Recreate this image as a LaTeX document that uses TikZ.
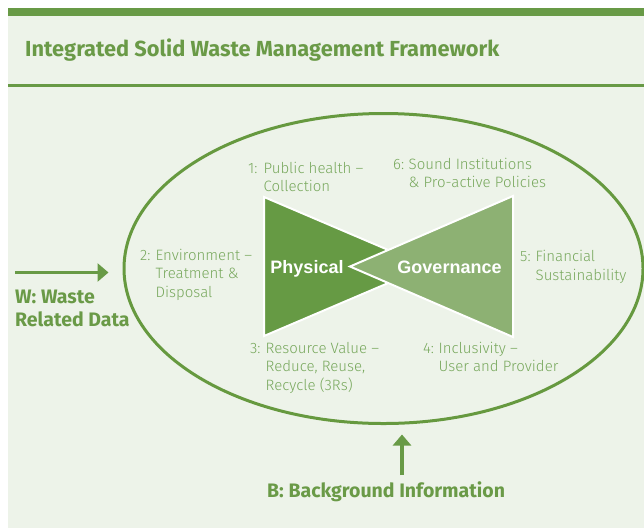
\documentclass[tikz,border=0pt]{standalone}
\usepackage{fontspec}
\setmainfont{Fira Sans}
\newfontfamily\labelfont{Fira Sans Light}
\newfontfamily\headfont{Fira Sans}
\newfontfamily\shapefont{Liberation Sans}
\usetikzlibrary{arrows.meta,shapes.geometric}

\definecolor{rulegreen}{HTML}{689A46}
\definecolor{panelbg}{HTML}{EDF3E9}
\definecolor{ringgreen}{HTML}{66993F}
\definecolor{physgreen}{HTML}{669A44}
\definecolor{govgreen}{HTML}{8DB173}
\definecolor{labelgreen}{HTML}{78A85D}
\definecolor{headgreen}{HTML}{6A9A47}

\begin{document}
\begin{tikzpicture}[x=1pt,y=-1pt,
  labeltext/.style={font=\labelfont\fontsize{15}{18.5}\selectfont, text=labelgreen,
    inner sep=0pt, anchor=base west},
  headtext/.style={text=headgreen, inner sep=0pt, anchor=base west},
  shapetext/.style={font=\shapefont\bfseries\fontsize{18}{21}\selectfont, text=white,
    inner sep=0pt, anchor=base},
  wedge/.style={draw=white, line width=2pt, line join=miter},
  flow/.style={draw=rulegreen, line width=3.5pt,
    -{Triangle[length=11pt,width=18pt]}}
]
\newcommand{\numlabel}[3]{\begin{tabular}[t]{@{}l@{}l@{}}\makebox[15.5pt][l]{#1}&#2\\#3\end{tabular}}

% page frame
\useasboundingbox (0,0) rectangle (644,528);
\fill[white] (0,0) rectangle (644,528);
\fill[panelbg] (8,16) rectangle (644,528);
\fill[rulegreen] (8,8) rectangle (644,16);
\fill[rulegreen] (8,84) rectangle (644,87);

\node[headtext, font=\headfont\bfseries\fontsize{21.8}{26}\selectfont] (title) at (25,56)
  {Integrated Solid Waste Management Framework};

% outer ring
\node[draw=ringgreen, line width=3pt, ellipse, minimum width=519pt,
  minimum height=310pt, inner sep=0pt] (ring) at (383.5,268.5) {};

% bow-tie
\fill[physgreen, wedge] (264,197) -- (264,336) -- (427,266.5) -- cycle;
\fill[govgreen, wedge] (513,196) -- (513,337) -- (350,266.5) -- cycle;
\node[shapetext] (phys) at (307,273) {Physical};
\node[shapetext] (gov) at (449.5,273) {Governance};

% numbered aspects
\node[labeltext] (l1) at (248,173) {\numlabel{1:}{Public health –}{&Collection}};
\node[labeltext] (l2) at (140,260) {\numlabel{2:}{Environment –}{&Treatment \&\\&Disposal}};
\node[labeltext] (l3) at (250,353) {\numlabel{3:}{Resource Value –}{&Reduce, Reuse,\\&Recycle (3Rs)}};
\node[labeltext] (l4) at (423,353) {\numlabel{4:}{Inclusivity –}{&User and Provider}};
\node[labeltext] (l5) at (520,261.5) {\numlabel{5:}{Financial}{&Sustainability}};
\node[labeltext] (l6) at (393,169) {\numlabel{6:}{Sound Institutions}{&\& Pro-active Policies}};

% inputs
\node[headtext, font=\headfont\bfseries\fontsize{19.5}{23}\selectfont] (wtext) at (15,303)
  {\begin{tabular}[t]{@{}l@{}}W: Waste\\Related Data\end{tabular}};
\node[headtext, font=\headfont\bfseries\fontsize{19.5}{24}\selectfont] (btext) at (267,497)
  {B: Background Information};

\coordinate (wtail) at (15,272.5);
\coordinate (btail) at (402,475);
\draw[flow, shorten >=14pt] (wtail) -- (ring.west |- wtail);
\draw[flow, shorten >=9.5pt] (btail) -- (btail |- ring.south);
\end{tikzpicture}
\end{document}
